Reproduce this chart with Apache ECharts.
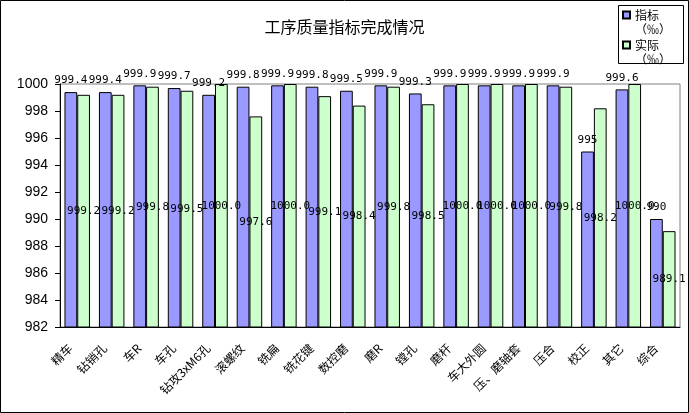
<!DOCTYPE html>
<html>
<head>
<meta charset="utf-8">
<script src="https://cdn.jsdelivr.net/npm/echarts@6/dist/echarts.min.js"></script>
<style>
html,body{margin:0;padding:0;background:#fff;}
#chart{width:689px;height:413px;}
</style>
</head>
<body>
<div id="chart"></div>
<script>
const categories = ['精车','钻销孔','车R','车孔','钻攻3xM6孔','滚螺纹','铣扁','铣花键','数控磨','磨R','镗孔','磨杆','车大外圆','压、磨轴套','压合','校正','其它','综合'];
const targetValues = [999.4, 999.4, 999.9, 999.7, 999.2, 999.8, 999.9, 999.8, 999.5, 999.9, 999.3, 999.9, 999.9, 999.9, 999.9, 995, 999.6, 990];
const actualValues = [999.2, 999.2, 999.8, 999.5, 1000.0, 997.6, 1000.0, 999.1, 998.4, 999.8, 998.5, 1000.0, 1000.0, 1000.0, 999.8, 998.2, 1000.0, 989.1];
const seriesNames = ['指标（‰）', '实际（‰）'];
const titleText = '工序质量指标完成情况';
const yMin = 982, yMax = 1000, yStep = 2;

const chart = echarts.init(document.getElementById('chart'), null, {renderer: 'canvas'});
const cjk = '"Noto Sans CJK SC", sans-serif';
const mono = '"DejaVu Sans Mono", monospace';

chart.setOption({
  animation: false,
  backgroundColor: '#fff',
  title: {
    text: titleText,
    left: 'center',
    top: 14,
    textStyle: {fontFamily: cjk, fontSize: 16, fontWeight: 'normal', color: '#000'}
  },
  legend: {
    orient: 'vertical',
    left: 622,
    top: -6,
    padding: 0,
    icon: 'rect',
    itemWidth: 7,
    itemHeight: 7,
    itemGap: -12,
    data: seriesNames,
    formatter: n => ' \n' + n.replace('（', '\n（'),
    textStyle: {fontFamily: cjk, fontSize: 12, lineHeight: 14, color: '#000'}
  },
  graphic: [
    {type: 'rect', silent: true, z: 100, shape: {x: 618.5, y: 5.5, width: 65, height: 58}, style: {fill: 'none', stroke: '#000', lineWidth: 1}},
    {type: 'rect', silent: true, z: 100, shape: {x: 0.5, y: 0.5, width: 688, height: 412}, style: {fill: 'none', stroke: '#000', lineWidth: 1}}
  ],
  grid: {
    left: 60, right: 9, top: 84, bottom: 86,
    show: true, borderColor: '#808080', borderWidth: 1, backgroundColor: '#fff',
    containLabel: false
  },
  xAxis: {
    type: 'category',
    data: categories,
    axisLine: {lineStyle: {color: '#000', width: 1}},
    axisTick: {inside: true, length: 4, lineStyle: {color: '#000'}},
    axisLabel: {interval: 0, rotate: 45, margin: 12, padding: [0, 10, 0, 0], fontFamily: cjk, fontSize: 12, color: '#000'},
    splitLine: {show: false}
  },
  yAxis: {
    type: 'value',
    min: yMin, max: yMax, interval: yStep,
    axisLine: {show: true, lineStyle: {color: '#000', width: 1}},
    axisTick: {show: true, inside: false, length: 5, lineStyle: {color: '#000'}},
    axisLabel: {margin: 12, fontFamily: '"Liberation Sans", sans-serif', fontSize: 14, color: '#000',
      formatter: v => String(v)},
    splitLine: {show: false}
  },
  series: [
    {
      name: seriesNames[0],
      type: 'bar',
      data: targetValues,
      barGap: '0%',
      barCategoryGap: '26%',
      itemStyle: {color: '#9999FF', borderColor: '#000', borderWidth: 1},
      label: {show: true, position: 'top', distance: 6, fontFamily: mono, fontSize: 11, color: '#000'}
    },
    {
      name: seriesNames[1],
      type: 'bar',
      data: actualValues,
      barGap: '0%',
      barCategoryGap: '26%',
      itemStyle: {color: '#CCFFCC', borderColor: '#000', borderWidth: 1},
      label: {show: true, position: 'inside', fontFamily: mono, fontSize: 11, color: '#000',
        formatter: p => p.value.toFixed(1)}
    }
  ]
});
</script>
</body>
</html>
